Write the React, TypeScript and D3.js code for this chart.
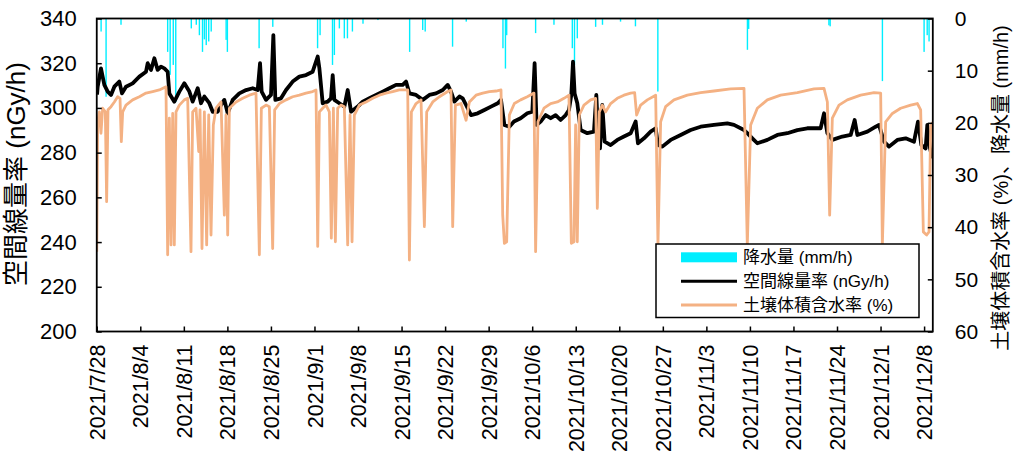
import React, { useEffect, useRef } from 'react';
import * as d3 from 'd3';

// days since 2021/7/28 00:00
const startDate = new Date(2021, 6, 28);
const endDay = 134.4;
const tickDays = d3.range(0, 134, 7);
const leftTicks = [200, 220, 240, 260, 280, 300, 320, 340];
const rightTicks = [0, 10, 20, 30, 40, 50, 60];

// 空間線量率 (nGy/h)
const doseRate: [number, number][] = [
  [0.05, 306], [0.15, 309.5], [0.68, 317.7], [1.22, 310.3], [1.76, 307.3], [2.29, 305.8], [2.83, 309.5],
  [3.63, 311.8], [4.06, 306.5], [4.7, 309.5], [5.77, 311], [6.85, 314], [7.92, 316.2], [8.19, 320],
  [8.72, 317], [9.26, 322.2], [9.79, 317], [10.33, 318.5], [10.87, 317.7], [11.4, 316.2], [11.67, 306.5],
  [12.47, 302.8], [13.28, 307.3], [14.08, 311], [14.89, 307.3], [15.42, 302.8], [16.23, 308.8],
  [16.76, 302.1], [17.3, 305.1], [18.1, 302.1], [18.64, 298.3], [19.44, 298.3], [19.98, 301.3],
  [20.51, 303.6], [21.05, 297.6], [21.85, 303.6], [22.92, 306.5], [24, 308], [25.07, 308.8],
  [25.87, 308], [26.25, 320], [26.51, 307.3], [27.21, 303.6], [28.01, 305.8], [28.39, 332.6],
  [28.71, 303.6], [29.62, 304.3], [30.43, 308], [31.5, 311.8], [32.57, 314], [33.64, 314.7],
  [34.71, 316.2], [35.52, 323], [35.79, 317.7], [36.32, 302.1], [37.13, 302.8], [37.66, 304.3],
  [37.93, 314.7], [38.2, 303.6], [39, 302.1], [39.8, 300.6], [40.34, 308], [40.88, 298.3],
  [41.95, 300.6], [42.75, 302.8], [43.83, 304.3], [44.9, 305.8], [45.97, 307.3], [47.04, 308.8],
  [48.11, 310.3], [49.18, 310.3], [49.72, 311.8], [50.26, 306.5], [51.33, 305.8], [52.4, 303.6],
  [53.47, 305.8], [54.54, 306.5], [55.62, 308], [56.42, 310.3], [56.95, 307.3], [57.49, 302.8],
  [58.3, 305.1], [58.83, 304.3], [59.37, 301.3], [60.17, 296.8], [61.24, 297.6], [62.31, 299.1],
  [63.38, 300.6], [64.46, 302.1], [64.99, 303.6], [65.53, 292.4], [66.33, 291.6], [67.07, 293.9],
  [68.14, 295.4], [69.21, 297.6], [70.02, 298.3], [70.39, 320], [70.71, 292.4], [71.36, 293.9],
  [72.16, 296.8], [72.97, 295.4], [73.77, 296.8], [74.57, 294.6], [75.38, 296.8], [75.91, 299.1],
  [76.29, 305.8], [76.56, 320.7], [76.82, 306.5], [77.25, 302.1], [77.79, 290.1], [78.86, 288.7],
  [79.93, 289.4], [80.31, 305.8], [80.57, 289.4], [80.9, 281.9], [81.27, 301.3], [81.65, 284.9],
  [82.61, 283.4], [83.68, 285.7], [84.75, 287.2], [85.83, 288.7], [86.63, 293.9], [87, 284.2],
  [87.97, 286.4], [89.04, 289.4], [89.85, 290.9], [90.22, 283.4], [90.92, 282.7], [92.26, 285.7],
  [93.87, 287.9], [95.47, 290.1], [97.08, 291.6], [99.22, 292.4], [101.37, 293.1], [102.44, 292.4],
  [104.05, 290.1], [104.58, 288.7], [105.39, 286.4], [106.19, 284.2], [107.8, 285.7], [109.41, 287.9],
  [111.01, 288.7], [112.62, 290.1], [114.23, 290.9], [116.37, 290.9], [116.91, 297.6], [117.45, 288.7],
  [118.25, 285.7], [119.86, 287.2], [121.2, 287.9], [121.84, 294.6], [122.27, 287.9], [123.88, 289.4],
  [125.22, 291.6], [125.75, 292.4], [126.56, 284.9], [127.36, 282.7], [128.7, 285.7], [130.04, 286.4],
  [131.38, 284.9], [132.02, 293.9], [132.56, 283.4], [133.25, 281.9], [133.52, 292.4], [133.95, 281.9],
  [134.33, 277.5],
];

// 土壌体積含水率 (%)
const soilWater: [number, number][] = [
  [0, 44.7], [0.15, 19.8], [0.42, 17.9], [0.68, 22], [0.95, 17.2], [1.38, 17.9], [1.59, 35.1],
  [1.81, 17.5], [2.29, 16.9], [2.83, 16], [3.36, 15], [3.74, 15.3], [3.95, 23.6], [4.17, 17.9],
  [4.7, 16.6], [5.77, 15.6], [6.85, 15], [7.92, 14.3], [8.99, 14], [10.06, 13.7], [11.13, 13.1],
  [11.4, 45.3], [11.67, 19.1], [11.94, 43.4], [12.21, 18.2], [12.47, 43.4], [12.74, 17.9],
  [13.28, 16.6], [14.08, 15.6], [14.62, 15.3], [15.15, 44.7], [15.42, 17.9], [15.96, 17.2],
  [16.39, 25.5], [16.6, 17.5], [16.92, 44.1], [17.3, 17.9], [17.67, 43.4], [18, 18.5], [18.37, 41.5],
  [18.74, 20.4], [19.17, 17.2], [19.98, 16], [20.51, 37.7], [20.78, 18.5], [21.05, 41.5],
  [21.32, 17.2], [22.39, 16], [23.46, 15.3], [24.53, 14.7], [25.6, 14.3], [26.14, 45.3],
  [26.46, 17.2], [27.21, 16.6], [27.75, 16.9], [28.28, 44.1], [28.6, 17.5], [29.36, 16.3],
  [30.43, 15.6], [31.5, 15], [32.57, 14.7], [33.64, 14.3], [34.71, 14], [35.25, 13.7], [35.52, 43.7],
  [35.79, 17.9], [36.32, 17.2], [36.86, 16.6], [37.39, 17.9], [37.71, 42.1], [38.04, 17.2],
  [38.36, 42.8], [38.73, 17.2], [39.27, 16.6], [39.8, 16.9], [40.34, 43.4], [40.72, 18.5],
  [41.04, 42.8], [41.41, 18.5], [42.22, 16.6], [43.29, 16], [44.36, 15.3], [45.43, 14.7],
  [46.5, 14.3], [47.58, 14], [48.65, 13.7], [49.99, 13.7], [50.26, 46.3], [50.58, 17.9],
  [51.33, 16.3], [52.13, 15.6], [52.67, 39.9], [53.04, 17.9], [54.01, 16], [55.08, 15], [56.42, 14],
  [56.95, 13.7], [57.22, 39.9], [57.65, 16.6], [58.56, 16.3], [59.37, 19.5], [59.9, 16],
  [60.97, 14.7], [62.05, 14.3], [63.12, 14], [64.19, 13.9], [64.99, 13.7], [65.26, 37.7],
  [65.53, 43.1], [65.9, 42.8], [66.33, 18.5], [67.13, 16.3], [68.14, 15.6], [69.21, 15],
  [70.29, 14.3], [70.55, 44.7], [70.93, 19.8], [71.89, 17.2], [72.97, 16.3], [74.04, 16],
  [75.11, 15.3], [75.91, 14.7], [76.29, 43.1], [76.72, 42.8], [76.98, 20.4], [77.25, 42.8],
  [77.57, 18.5], [78.32, 16.6], [79.4, 15.6], [80.2, 15.3], [80.47, 36.4], [80.79, 17.9],
  [81.27, 16.6], [81.81, 17.9], [82.61, 16.3], [83.68, 15.3], [84.75, 14.7], [85.83, 14.3],
  [86.47, 14.2], [86.79, 18.5], [87.43, 16.6], [88.51, 15.6], [89.85, 14.7], [90.22, 43.4],
  [90.65, 19.8], [91.45, 16.9], [92.79, 15.6], [94.94, 14.7], [97.08, 14.2], [99.22, 13.9],
  [101.9, 13.5], [104.05, 13.4], [104.58, 43.4], [105.12, 20.4], [106.19, 17.2], [107.8, 15.6],
  [109.94, 14.7], [112.62, 14.2], [115.3, 13.5], [116.91, 13.4], [117.45, 16], [117.82, 37.7],
  [118.25, 19.1], [119.32, 16.6], [120.66, 15.6], [122.8, 14.7], [124.95, 14.2], [126.02, 14.3],
  [126.29, 43.4], [126.82, 19.8], [127.9, 18.2], [129.23, 17.2], [130.84, 16.6], [131.91, 16.3],
  [132.45, 17.5], [132.88, 40.9], [133.41, 41.5], [133.79, 40.9], [134.06, 20.4], [134.49, 19.8],
];

// 降水量 (mm/h)
const rainfall: [number, number][] = [
  [0.7, 2.5], [1.5, 15], [3.9, 1.2], [11.4, 6.4], [11.8, 10.8], [12.3, 8.9], [12.7, 16], [15.2, 1.9],
  [16, 1.2], [16.5, 3.2], [17, 6.4], [17.3, 4], [17.6, 5.1], [18, 4.4], [18.4, 2.5], [20.8, 4.1],
  [21, 6.4], [26.1, 5.7], [28.3, 1.6], [35.5, 5.7], [35.9, 3.2], [37.9, 8.9], [38.2, 7], [39, 1.9],
  [39.8, 3.8], [40.3, 3.8], [41.1, 2.5], [42.8, 1], [45.2, 0.3], [50.3, 6.4], [52.4, 2.2],
  [52.8, 2.5], [57.2, 5.4], [59.4, 0.6], [65.3, 5.7], [65.7, 9.6], [65.9, 3.2], [70.55, 2.8],
  [73.5, 1.2], [76.45, 5.7], [76.8, 8.9], [77.25, 3.8], [80.2, 1.6], [81.3, 1.2], [84.2, 0.6],
  [86.6, 1.5], [90.2, 14], [104.6, 6], [104.8, 2], [117.7, 1.3], [117.9, 1.5], [126.3, 12],
  [133, 6.4], [133.5, 3.2], [133.8, 4.4],
];

const legendItems = [
  { label: '降水量 (mm/h)', color: '#00EEFF', kind: 'bar' },
  { label: '空間線量率 (nGy/h)', color: '#000000', kind: 'line' },
  { label: '土壌体積含水率 (%)', color: '#F4B183', kind: 'line' },
];

const toDate = (day: number) => new Date(startDate.getTime() + day * 864e5);

const font = '"Liberation Sans", Arial, "Noto Sans CJK JP", sans-serif';

export default function App() {
  const svgRef = useRef<SVGSVGElement>(null);

  useEffect(() => {
    const width = 1033;
    const height = 454;
    const left = 96.75, right = 932.8, top = 18.5, bottom = 331.5;

    const svg = d3.select(svgRef.current);
    svg.selectAll('*').remove();
    svg.attr('width', width).attr('height', height);

    const x = d3.scaleTime().domain([startDate, toDate(endDay)]).range([left, right]);
    const yL = d3.scaleLinear().domain([200, 340]).range([bottom, top]);
    const yR = d3.scaleLinear().domain([0, 60]).range([top, bottom]);

    svg.append('clipPath').attr('id', 'plot')
      .append('rect').attr('x', left).attr('y', top).attr('width', right - left).attr('height', bottom - top);

    const plot = svg.append('g').attr('clip-path', 'url(#plot)');

    // rain bars hang from the top
    plot.selectAll('.rain')
      .data(rainfall)
      .join('rect')
      .attr('x', (d) => x(toDate(d[0])) - 0.7)
      .attr('y', top)
      .attr('width', 1.4)
      .attr('height', (d) => yR(d[1]) - top)
      .attr('fill', '#00EEFF');

    const doseLine = d3.line<[number, number]>()
      .x((d) => x(toDate(d[0])))
      .y((d) => yL(d[1]));
    const soilLine = d3.line<[number, number]>()
      .x((d) => x(toDate(d[0])))
      .y((d) => yR(d[1]));

    plot.append('path').datum(doseRate)
      .attr('d', doseLine).attr('fill', 'none')
      .attr('stroke', '#000').attr('stroke-width', 3.8).attr('stroke-linejoin', 'round');

    plot.append('path').datum(soilWater)
      .attr('d', soilLine).attr('fill', 'none')
      .attr('stroke', '#F4B183').attr('stroke-width', 2.8).attr('stroke-linejoin', 'round');

    // axes
    const xAxis = svg.append('g')
      .attr('transform', `translate(0,${bottom})`)
      .call(d3.axisBottom(x)
        .tickValues(tickDays.map(toDate))
        .tickFormat(d3.timeFormat('%Y/%-m/%-d') as any)
        .tickSizeInner(-5).tickSizeOuter(0));
    xAxis.select('.domain').remove();
    xAxis.selectAll('line').attr('stroke-width', 1.5);
    xAxis.selectAll('text')
      .attr('transform', 'rotate(-90)')
      .attr('x', -13).attr('y', 0).attr('dy', '0.35em')
      .style('text-anchor', 'end');
    xAxis.attr('font-family', font).attr('font-size', 21.5);

    const yAxisL = svg.append('g')
      .attr('transform', `translate(${left},0)`)
      .call(d3.axisLeft(yL).tickValues(leftTicks).tickSizeInner(-5).tickSizeOuter(0).tickPadding(20));
    yAxisL.select('.domain').remove();
    yAxisL.selectAll('line').attr('stroke-width', 1.5);
    yAxisL.attr('font-family', font).attr('font-size', 22);

    const yAxisR = svg.append('g')
      .attr('transform', `translate(${right},0)`)
      .call(d3.axisRight(yR).tickValues(rightTicks).tickSizeInner(-5).tickSizeOuter(0).tickPadding(22));
    yAxisR.select('.domain').remove();
    yAxisR.selectAll('line').attr('stroke-width', 1.5);
    yAxisR.attr('font-family', font).attr('font-size', 21);

    svg.append('rect')
      .attr('x', left).attr('y', top).attr('width', right - left).attr('height', bottom - top)
      .attr('fill', 'none').attr('stroke', '#000').attr('stroke-width', 1.8);

    // axis titles
    svg.append('text')
      .attr('transform', 'translate(16,174) rotate(-90)')
      .attr('text-anchor', 'middle').attr('dy', '0.35em')
      .attr('font-family', font).attr('font-size', 26)
      .text('空間線量率 (nGy/h)');

    svg.append('text')
      .attr('transform', 'translate(1001,188) rotate(-90)')
      .attr('text-anchor', 'middle').attr('dy', '0.35em')
      .attr('font-family', font).attr('font-size', 20)
      .text('土壌体積含水率 (%)、降水量 (mm/h)');

    // legend
    const lg = svg.append('g').attr('transform', 'translate(656,244)');
    lg.append('rect').attr('width', 263).attr('height', 73.5)
      .attr('fill', '#fff').attr('stroke', '#000').attr('stroke-width', 1.5);
    const rows = lg.selectAll('.row').data(legendItems).join('g')
      .attr('transform', (d, i) => `translate(0,${13.3 + i * 23.9})`);
    rows.filter((d) => d.kind === 'bar').append('rect')
      .attr('x', 25).attr('y', -5).attr('width', 56).attr('height', 10).attr('fill', (d) => d.color);
    rows.filter((d) => d.kind === 'line').append('line')
      .attr('x1', 25).attr('x2', 81).attr('stroke', (d) => d.color).attr('stroke-width', 3);
    rows.append('text')
      .attr('x', 87).attr('dy', '0.35em')
      .attr('font-family', font).attr('font-size', 17)
      .text((d) => d.label);
  }, []);

  return <svg ref={svgRef} style={{ position: 'absolute', left: 0, top: 0 }} />;
}
